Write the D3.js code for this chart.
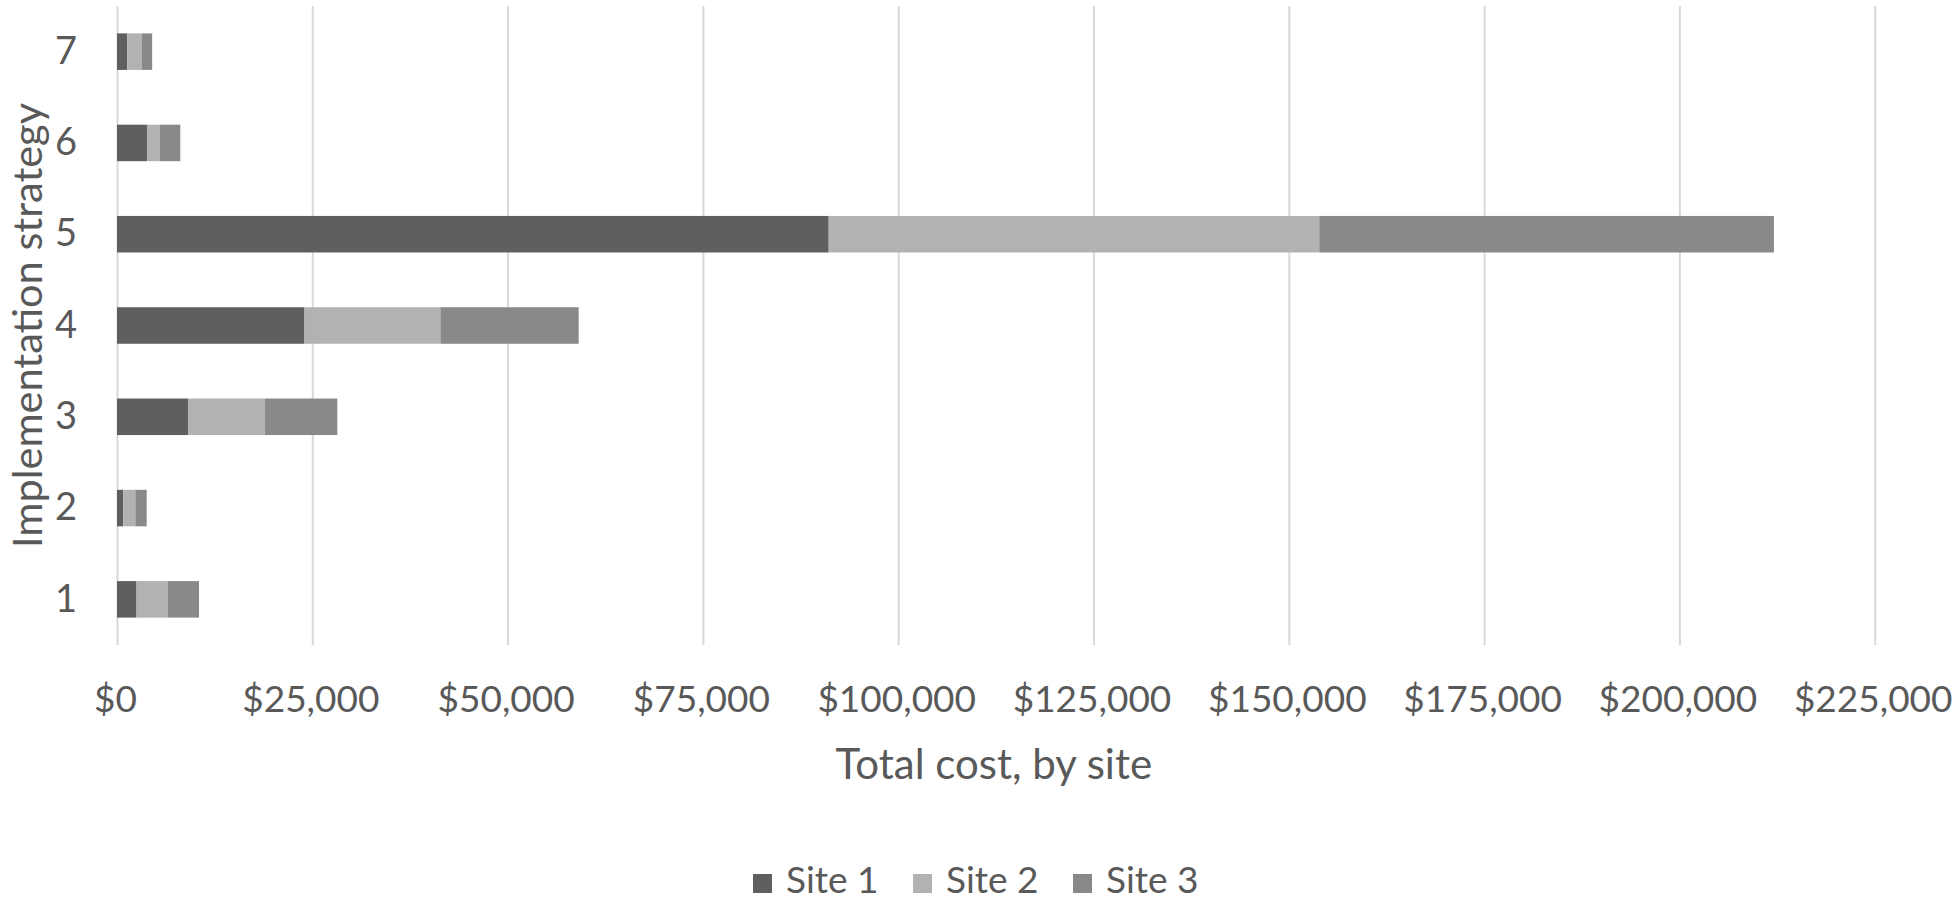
<!DOCTYPE html>
<html>
<head>
<meta charset="utf-8">
<script src="https://cdn.jsdelivr.net/npm/d3@7"></script>
<style>
  html, body { margin: 0; padding: 0; background: #ffffff; }
  svg { display: block; }
  text { font-family: Lato, "Open Sans", sans-serif; fill: #595959; }
</style>
</head>
<body>
<svg id="chart" width="1952" height="900"></svg>
<script>
// ---- data ----
const categories = ["1", "2", "3", "4", "5", "6", "7"];
const seriesNames = ["Site 1", "Site 2", "Site 3"];
const site1 = [2500, 800, 9100, 24000, 91100, 3850, 1300];
const site2 = [4000, 1550, 9850, 17400, 62800, 1650, 1900];
const site3 = [4000, 1450, 9250, 17700, 58200, 2600, 1300];
const xTicks = [0, 25000, 50000, 75000, 100000, 125000, 150000, 175000, 200000, 225000];
const colors = ["#5f5f5f", "#b2b2b2", "#898989"];
const xTitle = "Total cost, by site";
const yTitle = "Implementation strategy";

// ---- layout ----
const svg = d3.select("#chart");
const plot = { left: 117, right: 1874.7, top: 6, bottom: 645 };
const fontSize = 37;
const titleSize = 42;

const x = d3.scaleLinear().domain([0, 225000]).range([plot.left, plot.right]);
const y = d3.scaleBand().domain(categories.slice().reverse())
  .range([plot.top, plot.bottom]).paddingInner(0.6).paddingOuter(0.3);

// gridlines
const grid = svg.append("g").attr("transform", `translate(0,${plot.bottom})`)
  .call(d3.axisBottom(x).tickValues(xTicks).tickSize(-(plot.bottom - plot.top)).tickFormat(""));
grid.select(".domain").remove();
grid.selectAll("line").attr("stroke", "#d9d9d9").attr("stroke-width", 2);

// stacked bars
const rows = categories.map((c, i) => ({ cat: c, "Site 1": site1[i], "Site 2": site2[i], "Site 3": site3[i] }));
const stack = d3.stack().keys(seriesNames)(rows);
svg.append("g").selectAll("g").data(stack).join("g")
  .attr("fill", (d, i) => colors[i])
  .selectAll("rect").data(d => d).join("rect")
  .attr("x", d => x(d[0]))
  .attr("width", d => x(d[1]) - x(d[0]))
  .attr("y", d => y(d.data.cat))
  .attr("height", y.bandwidth());

// x tick labels
const xAxis = svg.append("g").attr("transform", `translate(0,${plot.bottom})`)
  .call(d3.axisBottom(x).tickValues(xTicks).tickSize(0)
    .tickFormat(v => "$" + d3.format(",")(v)));
xAxis.select(".domain").remove();
xAxis.selectAll("text").attr("font-size", fontSize).attr("y", 0).attr("dy", null)
  .attr("transform", "translate(-2,66.7)")
  .style("font-family", "Lato").attr("fill", "#595959");

// y tick labels
const yAxis = svg.append("g").attr("transform", `translate(${plot.left},0)`)
  .call(d3.axisLeft(y).tickSize(0).tickPadding(40));
yAxis.select(".domain").remove();
yAxis.selectAll("text").attr("font-size", fontSize + 1).attr("fill", "#595959")
  .style("font-family", "Lato");

// axis titles
svg.append("text").attr("x", (plot.left + plot.right) / 2 - 2).attr("y", 779)
  .attr("text-anchor", "middle").attr("font-size", titleSize).text(xTitle);
svg.append("text").attr("transform", `translate(42,${(plot.top + plot.bottom) / 2}) rotate(-90)`)
  .attr("text-anchor", "middle").attr("font-size", 41.5).text(yTitle);

// legend
const legendX = [753, 913, 1073];
const lg = svg.append("g").selectAll("g").data(seriesNames).join("g")
  .attr("transform", (d, i) => `translate(${legendX[i]},0)`);
lg.append("rect").attr("x", 0).attr("y", 874).attr("width", 19).attr("height", 19)
  .attr("fill", (d, i) => colors[i]);
lg.append("text").attr("x", 33).attr("y", 893).attr("font-size", fontSize).text(d => d);
</script>
</body>
</html>
